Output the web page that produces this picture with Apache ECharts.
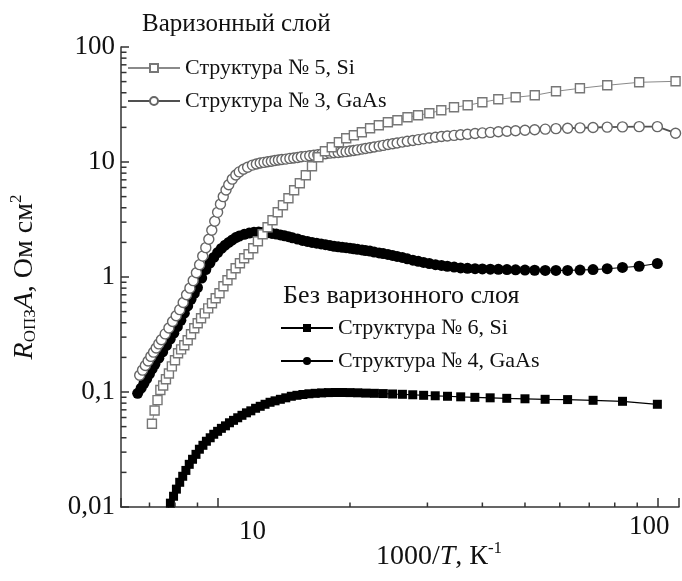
<!DOCTYPE html>
<html><head><meta charset="utf-8">
<script src="https://cdn.jsdelivr.net/npm/echarts@6/dist/echarts.min.js"></script>
<style>html,body{margin:0;padding:0;background:#fff}#c{width:682px;height:581px}</style>
</head><body><div id="c"></div>
<script>
// ---- data (x = 1000/T, K^-1 ; y = R*A, Ohm cm^2) ----
const s5Si = [[7.09,0.053],[7.19,0.069],[7.30,0.085],[7.41,0.104],[7.52,0.114],[7.63,0.129],[7.75,0.145],[7.87,0.167],[8.00,0.189],[8.13,0.217],[8.26,0.235],[8.40,0.255],[8.55,0.282],[8.70,0.318],[8.85,0.358],[9.01,0.396],[9.17,0.438],[9.35,0.483],[9.52,0.534],[9.71,0.591],[9.90,0.653],[10.10,0.722],[10.31,0.83],[10.53,0.936],[10.75,1.056],[10.99,1.19],[11.24,1.315],[11.49,1.454],[11.76,1.575],[12.05,1.777],[12.35,2.044],[12.66,2.351],[12.99,2.705],[13.33,3.112],[13.70,3.652],[14.08,4.203],[14.49,4.834],[14.93,5.675],[15.38,6.529],[15.87,7.661],[16.39,9.175],[16.95,10.99],[17.54,12.39],[18.18,13.42],[18.87,14.84],[19.61,16.08],[20.41,17.07],[21.28,18.13],[22.22,19.63],[23.26,20.85],[24.39,22.14],[25.64,23.05],[27.03,24.47],[28.57,25.47],[30.30,26.52],[32.26,28.15],[34.48,29.91],[37.04,31.12],[40.00,33.04],[43.48,35.10],[47.62,36.53],[52.63,38.02],[58.82,41.19],[66.67,43.74],[76.92,46.45],[90.91,49.32],[110,50.3]];
const s3GaAs = [[6.65,0.14],[6.75,0.155],[6.85,0.17],[6.95,0.186],[7.05,0.204],[7.15,0.222],[7.25,0.241],[7.35,0.262],[7.45,0.285],[7.6,0.32],[7.75,0.36],[7.9,0.41],[8.05,0.46],[8.2,0.52],[8.35,0.6],[8.5,0.7],[8.65,0.8],[8.8,0.93],[8.95,1.09],[9.1,1.28],[9.25,1.52],[9.4,1.8],[9.55,2.13],[9.7,2.55],[9.85,3.05],[10.0,3.65],[10.15,4.3],[10.3,5.0],[10.45,5.7],[10.6,6.35],[10.8,7.1],[11.0,7.7],[11.2,8.2],[11.45,8.65],[11.7,9.0],[12.0,9.4],[12.25,9.6],[12.5,9.8],[12.75,9.93],[13.0,10.05],[13.25,10.15],[13.5,10.3],[13.75,10.4],[14.0,10.5],[14.3,10.6],[14.6,10.75],[14.9,10.85],[15.2,10.95],[15.5,11.1],[15.85,11.2],[16.2,11.35],[16.55,11.45],[16.9,11.55],[17.25,11.7],[17.6,11.8],[18.0,11.95],[18.4,12.05],[18.8,12.1],[19.2,12.2],[19.6,12.3],[20.0,12.45],[20.4,12.6],[20.8,12.75],[21.3,12.95],[21.7,13.1],[22.2,13.3],[22.7,13.5],[23.3,13.75],[23.8,13.95],[24.4,14.2],[25.0,14.4],[25.6,14.65],[26.3,14.9],[27.0,15.15],[27.8,15.4],[28.6,15.65],[29.4,15.9],[30.3,16.15],[31.3,16.4],[32.3,16.65],[33.3,16.85],[34.5,17.05],[35.7,17.25],[37.0,17.45],[38.5,17.7],[40.0,17.9],[41.7,18.1],[43.5,18.3],[45.5,18.5],[47.6,18.7],[50.0,18.9],[52.6,19.1],[55.6,19.3],[58.8,19.5],[62.5,19.65],[66.7,19.8],[71.4,19.95],[76.9,20.1],[83.3,20.2],[90.9,20.3],[100,20.3],[110,17.8]];
const s6Si = [[7.69,0.0094],[7.81,0.0108],[7.94,0.0124],[8.06,0.0143],[8.20,0.0164],[8.33,0.0185],[8.47,0.0208],[8.62,0.0235],[8.77,0.026],[8.93,0.0287],[9.09,0.0318],[9.26,0.0344],[9.43,0.0373],[9.62,0.040],[9.80,0.0429],[10.0,0.0455],[10.2,0.0483],[10.42,0.0508],[10.64,0.054],[10.87,0.0567],[11.11,0.0597],[11.36,0.0627],[11.63,0.0659],[11.9,0.0686],[12.2,0.0722],[12.5,0.0751],[12.82,0.0782],[13.16,0.0814],[13.51,0.0838],[13.89,0.0864],[14.29,0.089],[14.71,0.0918],[15.15,0.0936],[15.63,0.0951],[16.13,0.0965],[16.67,0.0974],[17.24,0.0982],[17.86,0.0988],[18.52,0.099],[19.23,0.099],[20.0,0.0988],[20.83,0.0984],[21.74,0.0978],[22.73,0.0974],[23.81,0.0969],[25.0,0.0961],[26.32,0.0955],[27.78,0.0946],[29.41,0.0936],[31.25,0.0927],[33.33,0.0918],[35.71,0.0908],[38.46,0.0899],[41.67,0.089],[45.45,0.0881],[50.0,0.0873],[55.56,0.0864],[62.5,0.0859],[71.43,0.0847],[83.33,0.083],[100,0.0782]];
const s4GaAs = [[6.58,0.0975],[6.7,0.108],[6.8,0.119],[6.9,0.131],[7.0,0.144],[7.1,0.159],[7.2,0.174],[7.35,0.197],[7.5,0.223],[7.65,0.254],[7.8,0.288],[7.95,0.325],[8.1,0.37],[8.25,0.42],[8.4,0.485],[8.55,0.56],[8.7,0.64],[8.85,0.72],[9.0,0.81],[9.2,0.98],[9.4,1.16],[9.6,1.32],[9.8,1.48],[10.0,1.63],[10.2,1.77],[10.4,1.89],[10.6,2.0],[10.8,2.1],[11.0,2.2],[11.2,2.27],[11.5,2.35],[11.8,2.41],[12.1,2.45],[12.4,2.46],[12.7,2.45],[13.0,2.42],[13.3,2.39],[13.6,2.36],[13.9,2.32],[14.2,2.28],[14.5,2.24],[14.8,2.19],[15.2,2.14],[15.6,2.08],[16.0,2.04],[16.4,2.0],[16.8,1.97],[17.2,1.94],[17.6,1.91],[18.0,1.88],[18.4,1.85],[18.8,1.83],[19.2,1.81],[19.6,1.8],[20.0,1.78],[20.4,1.76],[20.8,1.74],[21.3,1.72],[21.7,1.7],[22.2,1.68],[22.7,1.65],[23.3,1.62],[23.8,1.6],[24.4,1.57],[25.0,1.54],[25.6,1.51],[26.3,1.48],[27.0,1.44],[27.8,1.4],[28.6,1.37],[29.4,1.34],[30.3,1.31],[31.3,1.28],[32.3,1.26],[33.3,1.24],[34.5,1.22],[35.7,1.2],[37.0,1.19],[38.5,1.18],[40.0,1.175],[41.7,1.17],[43.5,1.165],[45.5,1.16],[47.6,1.155],[50.0,1.15],[52.6,1.145],[55.6,1.14],[58.8,1.14],[62.5,1.14],[66.7,1.15],[71.4,1.16],[76.9,1.18],[83.3,1.21],[90.9,1.24],[100,1.31]];

const seriesNames = ['Структура № 5, Si','Структура № 3, GaAs','Структура № 6, Si','Структура № 4, GaAs'];
const groupTitles = ['Варизонный слой','Без варизонного слоя'];
const xMajorLabels = [10, 100];
const xMinorTicks = [7, 8, 9, 20, 30, 40, 50, 60, 70, 80, 90];
const yMinorTicks = [0.02,0.03,0.04,0.05,0.06,0.07,0.08,0.09,0.2,0.3,0.4,0.5,0.6,0.7,0.8,0.9,2,3,4,5,6,7,8,9,20,30,40,50,60,70,80,90];
const X_MIN = 6.03, X_MAX = 112, Y_MIN = 0.01, Y_MAX = 100;

const FONT = "'Liberation Serif','Times New Roman',Times,serif";
const INK = '#111';
const AX = '#333';
const chart = echarts.init(document.getElementById('c'));

const tickFont = {fontFamily: FONT, fontSize: 27, color: INK};
const nameRich = {
  t: {fontFamily: FONT, fontSize: 28, color: INK},
  i: {fontFamily: FONT, fontSize: 28, fontStyle: 'italic', color: INK},
  sup: {fontFamily: FONT, fontSize: 17, color: INK, padding: [0, 0, 16, 0]},
  sub: {fontFamily: FONT, fontSize: 17, color: INK, padding: [12, 0, 0, 0]}
};
const legendText = {fontFamily: FONT, fontSize: 22, color: INK};
const titleText = {fontFamily: FONT, fontSize: 25, fontWeight: 'normal', color: INK};

// minor ticks: thin rect markers placed on the axes through the library's log scales
function minorTickSeries(data, size, offset) {
  return {
    type: 'scatter', data: data, symbol: 'rect', symbolSize: size, symbolOffset: offset,
    itemStyle: {color: AX, opacity: 1}, silent: true, clip: false, z: 10,
    emphasis: {disabled: true}
  };
}

const option = {
  animation: false,
  backgroundColor: '#fff',
  textStyle: {fontFamily: FONT},
  grid: {left: 116, right: 0, top: 47, bottom: 74},
  title: [
    {text: groupTitles[0], left: 142, top: 12, padding: 0, textStyle: titleText},
    {text: groupTitles[1], left: 283, top: 283, padding: 0, textStyle: Object.assign({}, titleText, {fontSize: 26})}
  ],
  legend: [
    {data: [seriesNames[0], seriesNames[1]], orient: 'vertical', left: 127, top: 57, padding: 0,
     itemWidth: 52, itemHeight: 10, itemGap: 11, selectedMode: false, textStyle: legendText},
    {data: [seriesNames[2], seriesNames[3]], orient: 'vertical', left: 280, top: 317, padding: 0,
     itemWidth: 52, itemHeight: 10, itemGap: 11, selectedMode: false, textStyle: legendText}
  ],
  xAxis: [
    {type: 'log', logBase: 10, min: X_MIN, max: X_MAX, position: 'bottom',
     axisLine: {show: true, onZero: false, lineStyle: {color: AX, width: 1.5}},
     axisTick: {show: true, inside: true, length: 9, lineStyle: {color: AX, width: 1.5}},
     splitLine: {show: false},
     axisLabel: {margin: 3,
       formatter: function (v) {
         if (Math.abs(v - xMajorLabels[0]) < 1e-6) return '{a|' + xMajorLabels[0] + '}';
         if (Math.abs(v - xMajorLabels[1]) < 1e-6) return '{b|' + xMajorLabels[1] + '}';
         return '';
       },
       rich: {
         a: Object.assign({padding: [8, 0, 0, 70]}, tickFont),
         b: Object.assign({padding: [3, 16, 0, 0]}, tickFont)
       }},
     name: '{t|1000/}{i|T}{t|, К}{sup|-1}', nameLocation: 'middle', nameGap: 33, nameMoveOverlap: false,
     nameTextStyle: {padding: [0, 0, 0, 78], rich: nameRich}}
  ],
  yAxis: [
    {type: 'log', logBase: 10, min: Y_MIN, max: Y_MAX, position: 'left',
     axisLine: {show: true, onZero: false, lineStyle: {color: AX, width: 1.5}},
     axisTick: {show: true, inside: true, length: 8, lineStyle: {color: AX, width: 1.5}},
     splitLine: {show: false},
     axisLabel: Object.assign({margin: 6, formatter: v => String(+v.toPrecision(3)).replace('.', ',')}, tickFont),
     name: '{i|R}{sub|ОПЗ}{i|A}{t|, Ом см}{sup|2}', nameLocation: 'middle', nameGap: 80, nameMoveOverlap: false,
     nameTextStyle: {rich: nameRich}}
  ],
  series: [
    {name: seriesNames[2], type: 'line', data: s6Si,
     symbol: 'rect', symbolSize: 9, showAllSymbol: true, silent: true,
     itemStyle: {color: '#000'}, lineStyle: {color: '#000', width: 1.2}, emphasis: {disabled: true}},
    {name: seriesNames[3], type: 'line', data: s4GaAs,
     symbol: 'circle', symbolSize: 11, showAllSymbol: true, silent: true,
     itemStyle: {color: '#000'}, lineStyle: {color: '#000', width: 1.2}, emphasis: {disabled: true}},
    {name: seriesNames[1], type: 'line', data: s3GaAs,
     symbol: 'circle', symbolSize: 10, showAllSymbol: true, silent: true,
     itemStyle: {color: '#fff', borderColor: '#666', borderWidth: 1.4},
     lineStyle: {color: '#505050', width: 1.8}, emphasis: {disabled: true}},
    {name: seriesNames[0], type: 'line', data: s5Si,
     symbol: 'rect', symbolSize: 9, showAllSymbol: true, silent: true,
     itemStyle: {color: '#fff', borderColor: '#777', borderWidth: 1.4},
     lineStyle: {color: '#8a8a8a', width: 1}, emphasis: {disabled: true}},
    minorTickSeries(xMinorTicks.map(v => [v, Y_MIN]), [1.5, 4.5], [0, -2.25]),
    minorTickSeries(yMinorTicks.map(v => [X_MIN, v]), [5.5, 1.5], [2.75, 0])
  ]
};
chart.setOption(option);
</script></body></html>
